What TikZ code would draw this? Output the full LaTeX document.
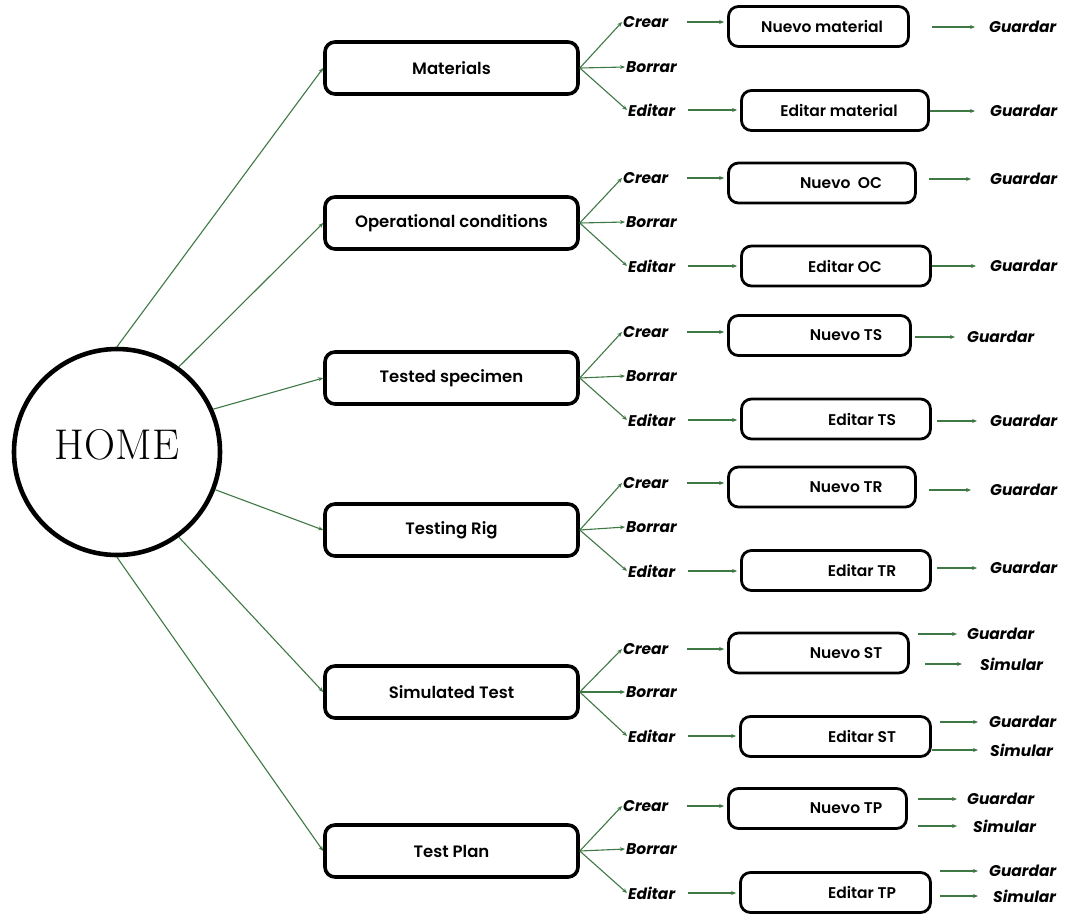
\documentclass[tikz,border=0pt]{standalone}
\usepackage{fontspec}
\newfontfamily\popfont{Poppins}[BoldFont={* SemiBold},BoldItalicFont={* SemiBold Italic}]
\newfontfamily\popheavy{Poppins}
\usetikzlibrary{arrows.meta}
\definecolor{flowgreen}{RGB}{62,120,68}

% sub-box with its caption set apart from the frame centre
\newcommand{\opbox}[6]{% name, cx, cy, width, text x, text
  \node[subbox,minimum width=#4] (#1) at (#2,#3) {};
  \node[subtext] (#1-t) at (#5,#3) {#6};
}

\begin{document}
\begin{tikzpicture}[x=1pt,y=-1pt,
  hub/.style={circle,draw,line width=4.6pt,minimum size=206pt,inner sep=0pt},
  hubtext/.style={font=\fontsize{43}{43}\selectfont,inner sep=0pt},
  mainbox/.style={draw,line width=3.6pt,rounded corners=10pt,minimum width=253pt,
    minimum height=52pt,inner sep=0pt,font=\popfont\bfseries\fontsize{16.5}{19}\selectfont},
  subbox/.style={draw,line width=2.8pt,rounded corners=10pt,minimum height=40pt,inner sep=0pt},
  subtext/.style={font=\popfont\bfseries\fontsize{15.5}{18}\selectfont,inner sep=0pt},
  act/.style={anchor=west,inner sep=1pt,font=\popheavy\bfseries\itshape\fontsize{15.5}{19}\selectfont},
  arr/.style={draw=flowgreen,line width=1.1pt,-{Stealth[length=5pt,width=4pt]}},
]
\useasboundingbox (0,0) rectangle (1066,914);

% hub
\node[hub] (home) at (117,452) {};
\node[hubtext] (home-t) at (117,445) {HOME};

% main sections
\node[mainbox] (m1) at (451.5,68)  {Materials};
\node[mainbox] (m2) at (451.5,223) {Operational conditions};
\node[mainbox] (m3) at (451.5,378) {Tested specimen};
\node[mainbox] (m4) at (451.5,530) {Testing Rig};
\node[mainbox] (m5) at (451.5,692) {Simulated Test};
\node[mainbox] (m6) at (451.5,851) {Test Plan};

\draw[arr] (home.90)  -- (m1.west);
\draw[arr] (home.54)  -- (m2.west);
\draw[arr] (home.24)  -- (m3.west);
\draw[arr] (home.-21) -- (m4.west);
\draw[arr] (home.-54) -- (m5.west);
\draw[arr] (home.-90) -- (m6.west);

% actions of each section
\foreach \m/\c/\b/\e in {1/22/67/110, 2/178/222/266, 3/332/376/420,
                         4/483/527/571, 5/649/692/736, 6/806/849/893}{
  \node[act] (c\m) at (622,\c) {Crear};
  \node[act] (b\m) at (625,\b) {Borrar};
  \node[act] (e\m) at (627,\e) {Editar};
  \draw[arr] (m\m.east) -- (c\m.west);
  \draw[arr] (m\m.east) -- (b\m.west);
  \draw[arr] (m\m.east) -- (e\m.west);
}

% forms
\opbox{n1}{818.5}{26.5}{180}{822}{Nuevo material}
\opbox{d1}{835}{110.5}{187}{839}{Editar material}
\opbox{n2}{822}{183}{187}{841}{Nuevo\ \ OC}
\opbox{d2}{836}{266}{189}{845}{Editar OC}
\opbox{n3}{819.5}{335.5}{182}{846}{Nuevo TS}
\opbox{d3}{836}{419}{189}{862}{Editar TS}
\opbox{n4}{822}{487}{187}{846}{Nuevo TR}
\opbox{d4}{836}{570.5}{189}{862}{Editar TR}
\opbox{n5}{818.5}{653}{180}{846}{Nuevo ST}
\opbox{d5}{835.5}{736.5}{190}{862}{Editar ST}
\opbox{n6}{817.5}{808.5}{178}{846}{Nuevo TP}
\opbox{d6}{835.5}{892.5}{190}{862}{Editar TP}

\foreach \m in {1,...,6}{
  \draw[arr,shorten <=17pt,shorten >=3pt] (c\m.east) -- (c\m.east -| n\m.west);
  \draw[arr,shorten <=12pt,shorten >=3pt] (e\m.east) -- (e\m.east -| d\m.west);
}

% results
\node[act] (g1a) at (988,27)  {Guardar};
\node[act] (g1b) at (989,111) {Guardar};
\node[act] (g2a) at (989,179) {Guardar};
\node[act] (g2b) at (989,266) {Guardar};
\node[act] (g3a) at (966,337) {Guardar};
\node[act] (g3b) at (989,421) {Guardar};
\node[act] (g4a) at (989,490) {Guardar};
\node[act] (g4b) at (989,568) {Guardar};
\node[act] (g5a) at (966,634) {Guardar};
\node[act] (s5a) at (979,664) {Simular};
\node[act] (g5b) at (988,722) {Guardar};
\node[act] (s5b) at (989,750) {Simular};
\node[act] (g6a) at (966,799) {Guardar};
\node[act] (s6a) at (972,826) {Simular};
\node[act] (g6b) at (988,871) {Guardar};
\node[act] (s6b) at (992,896) {Simular};

\draw[arr,shorten <=22pt,shorten >=13pt] (n1.east |- g1a.west) -- (g1a.west);
\draw[arr,shorten >=14pt] (d1.east |- g1b.west) -- (g1b.west);
\draw[arr,shorten <=12pt,shorten >=18pt] (n2.east |- g2a.west) -- (g2a.west);
\draw[arr,shorten >=13pt] (d2.east |- g2b.west) -- (g2b.west);
\draw[arr,shorten <=3pt,shorten >=11pt] (n3.east |- g3a.west) -- (g3a.west);
\draw[arr,shorten <=5pt,shorten >=12pt] (d3.east |- g3b.west) -- (g3b.west);
\draw[arr,shorten <=12pt,shorten >=18pt] (n4.east |- g4a.west) -- (g4a.west);
\draw[arr,shorten <=5pt,shorten >=12pt] (d4.east |- g4b.west) -- (g4b.west);
\draw[arr,shorten <=8pt,shorten >=9pt] (n5.east |- g5a.west) -- (g5a.west);
\draw[arr,shorten <=15pt,shorten >=17pt] (n5.east |- s5a.west) -- (s5a.west);
\draw[arr,shorten <=8pt,shorten >=10pt] (d5.east |- g5b.west) -- (g5b.west);
\draw[arr,shorten >=11pt] (d5.east |- s5b.west) -- (s5b.west);
\draw[arr,shorten <=10pt,shorten >=9pt] (n6.east |- g6a.west) -- (g6a.west);
\draw[arr,shorten <=10pt,shorten >=15pt] (n6.east |- s6a.west) -- (s6a.west);
\draw[arr,shorten <=8pt,shorten >=10pt] (d6.east |- g6b.west) -- (g6b.west);
\draw[arr,shorten <=8pt,shorten >=14pt] (d6.east |- s6b.west) -- (s6b.west);
\end{tikzpicture}
\end{document}
